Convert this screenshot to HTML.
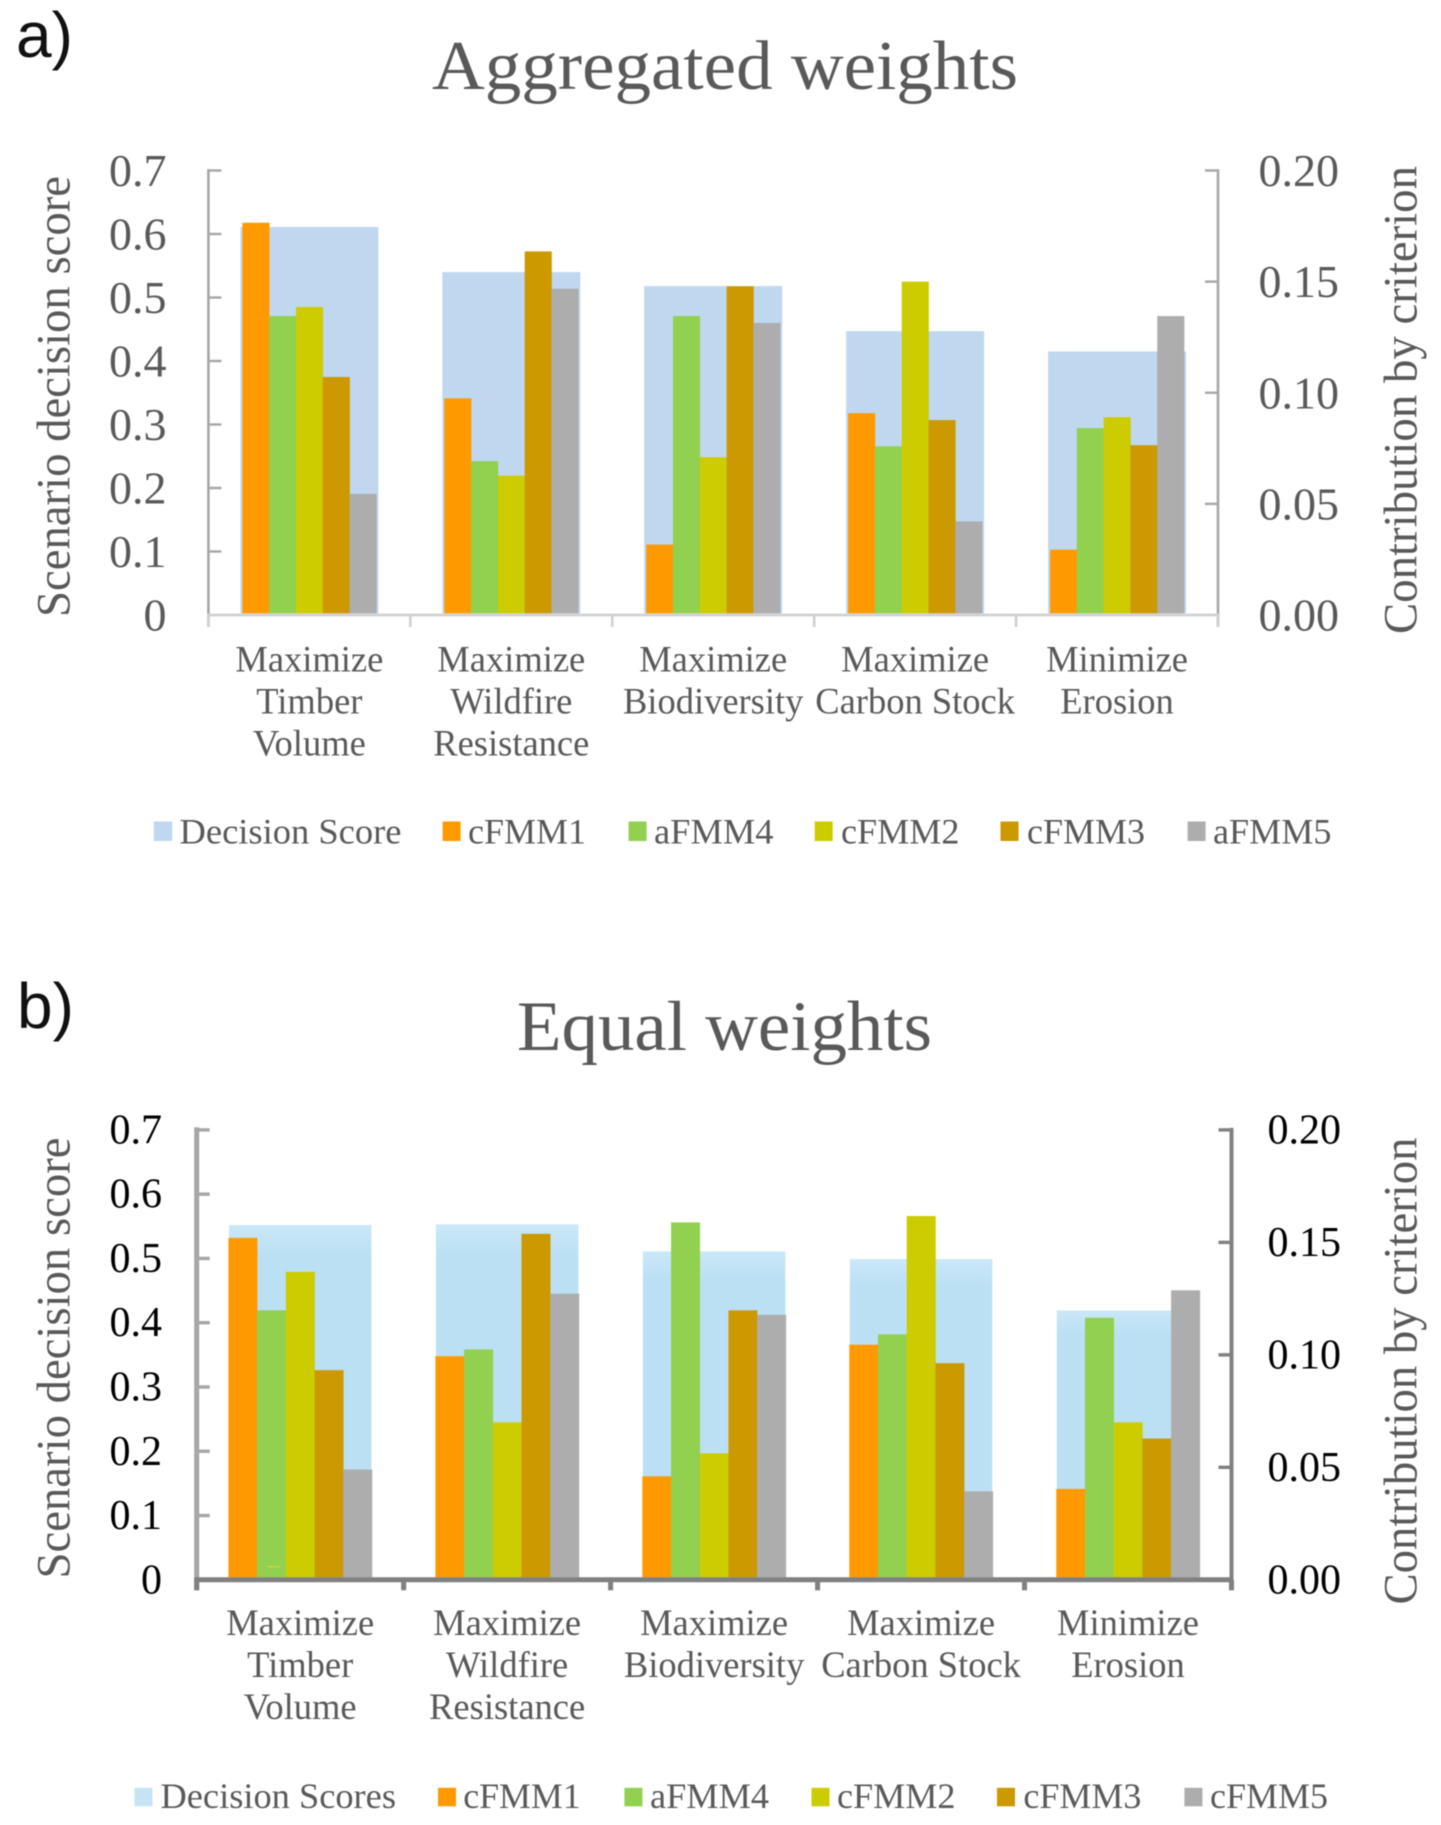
<!DOCTYPE html>
<html lang="en">
<head>
<meta charset="utf-8">
<title>Aggregated and equal weights decision scores</title>
<style>
html,body{margin:0;padding:0;background:#fff;}
svg{display:block;filter:blur(0.45px);}
text{font-family:"Liberation Serif",serif;}
.tag{font-family:"Liberation Sans",sans-serif;font-size:64px;fill:#111;}
.lg{font-size:36px;fill:#595959;}
</style>
</head>
<body>
<svg id="figure" xmlns="http://www.w3.org/2000/svg" width="1441" height="1825" viewBox="0 0 1441 1825">
  <defs>
    <linearGradient id="fadeB" x1="0" y1="0" x2="0" y2="1">
      <stop offset="0" stop-color="#cae8f8"/>
      <stop offset="0.09" stop-color="#bbe0f4"/>
      <stop offset="1" stop-color="#bbe0f4"/>
    </linearGradient>
  </defs>
  <rect x="0" y="0" width="1441" height="1825" fill="#fff"/>

  <text class="tag" x="16" y="57">a)</text>
  <text x="432" y="89" font-size="70" fill="#595959" textLength="586" lengthAdjust="spacingAndGlyphs">Aggregated weights</text>
  <text transform="translate(69.5,617) rotate(-90)" font-size="48" fill="#595959" textLength="441" lengthAdjust="spacingAndGlyphs">Scenario decision score</text>
  <text transform="translate(1416.5,634) rotate(-90)" font-size="48" fill="#595959" textLength="468" lengthAdjust="spacingAndGlyphs">Contribution by criterion</text>
  <g id="panelA"></g>

  <g>
    <rect x="153.8" y="821.5" width="18.4" height="19.5" fill="#bfd8f0"/>
    <text class="lg" x="179.5" y="843.5" textLength="222" lengthAdjust="spacingAndGlyphs">Decision Score</text>
    <rect x="442.6" y="821.5" width="18" height="19.5" fill="#ff9900"/>
    <text class="lg" x="468" y="843.5" textLength="118" lengthAdjust="spacingAndGlyphs">cFMM1</text>
    <rect x="628.6" y="821.5" width="18" height="19.5" fill="#92d050"/>
    <text class="lg" x="654" y="843.5" textLength="119.5" lengthAdjust="spacingAndGlyphs">aFMM4</text>
    <rect x="814.7" y="821.5" width="18" height="19.5" fill="#cccc00"/>
    <text class="lg" x="841" y="843.5" textLength="118.5" lengthAdjust="spacingAndGlyphs">cFMM2</text>
    <rect x="1000.5" y="821.5" width="18" height="19.5" fill="#cc9900"/>
    <text class="lg" x="1027" y="843.5" textLength="118" lengthAdjust="spacingAndGlyphs">cFMM3</text>
    <rect x="1187.6" y="821.5" width="18" height="19.5" fill="#adadad"/>
    <text class="lg" x="1213" y="843.5" textLength="118.5" lengthAdjust="spacingAndGlyphs">aFMM5</text>
  </g>

  <text class="tag" x="17" y="1028">b)</text>
  <text x="517" y="1050" font-size="71" fill="#595959" textLength="415" lengthAdjust="spacingAndGlyphs">Equal weights</text>
  <text transform="translate(69.5,1578.5) rotate(-90)" font-size="48" fill="#595959" textLength="441" lengthAdjust="spacingAndGlyphs">Scenario decision score</text>
  <text transform="translate(1416.5,1604.5) rotate(-90)" font-size="48" fill="#595959" textLength="467" lengthAdjust="spacingAndGlyphs">Contribution by criterion</text>
  <g id="panelB"></g>
  <rect x="267.5" y="1566" width="12.5" height="1.2" fill="#d6d24a"/>

  <g>
    <rect x="134.5" y="1787.8" width="18" height="18.5" fill="#c4e4f6"/>
    <text class="lg" x="160.5" y="1808" textLength="235.5" lengthAdjust="spacingAndGlyphs">Decision Scores</text>
    <rect x="438" y="1787.8" width="18" height="18.5" fill="#ff9900"/>
    <text class="lg" x="463.2" y="1808" textLength="117.5" lengthAdjust="spacingAndGlyphs">cFMM1</text>
    <rect x="624.4" y="1787.8" width="18" height="18.5" fill="#92d050"/>
    <text class="lg" x="650" y="1808" textLength="119" lengthAdjust="spacingAndGlyphs">aFMM4</text>
    <rect x="811.5" y="1787.8" width="18" height="18.5" fill="#cccc00"/>
    <text class="lg" x="837" y="1808" textLength="118.5" lengthAdjust="spacingAndGlyphs">cFMM2</text>
    <rect x="997" y="1787.8" width="18" height="18.5" fill="#cc9900"/>
    <text class="lg" x="1023.4" y="1808" textLength="118" lengthAdjust="spacingAndGlyphs">cFMM3</text>
    <rect x="1184.4" y="1787.8" width="18" height="18.5" fill="#adadad"/>
    <text class="lg" x="1210" y="1808" textLength="118" lengthAdjust="spacingAndGlyphs">cFMM5</text>
  </g>
</svg>

<script>
const categories = [
  ["Maximize", "Timber", "Volume"],
  ["Maximize", "Wildfire", "Resistance"],
  ["Maximize", "Biodiversity"],
  ["Maximize", "Carbon Stock"],
  ["Minimize", "Erosion"]
];
const leftTicks = [0, 0.1, 0.2, 0.3, 0.4, 0.5, 0.6, 0.7];
const leftTickLabels = ["0", "0.1", "0.2", "0.3", "0.4", "0.5", "0.6", "0.7"];
const rightTicks = [0, 0.05, 0.10, 0.15, 0.20];
const rightTickLabels = ["0.00", "0.05", "0.10", "0.15", "0.20"];

const seriesNamesA = ["cFMM1", "aFMM4", "cFMM2", "cFMM3", "aFMM5"];
const decisionA = [0.611, 0.540, 0.518, 0.447, 0.415];
const cfmm1A = [0.1765, 0.0975, 0.0317, 0.0908, 0.0294];
const afmm4A = [0.1345, 0.0692, 0.1345, 0.0759, 0.0841];
const cfmm2A = [0.1386, 0.0627, 0.0710, 0.1500, 0.0890];
const cfmm3A = [0.1071, 0.1636, 0.1479, 0.0877, 0.0764];
const afmm5A = [0.0545, 0.1468, 0.1314, 0.0421, 0.1345];

const seriesNamesB = ["cFMM1", "aFMM4", "cFMM2", "cFMM3", "cFMM5"];
const decisionB = [0.552, 0.553, 0.511, 0.499, 0.419];
const cfmm1B = [0.1520, 0.0994, 0.0460, 0.1045, 0.0404];
const afmm4B = [0.1198, 0.1024, 0.1589, 0.1091, 0.1165];
const cfmm2B = [0.1369, 0.0700, 0.0562, 0.1617, 0.0700];
const cfmm3B = [0.0932, 0.1538, 0.1198, 0.0963, 0.0628];
const cfmm5B = [0.0490, 0.1272, 0.1178, 0.0393, 0.1287];

const leftMax = 0.7;
const rightMax = 0.2;
const barColors = ["#ff9900", "#92d050", "#cccc00", "#cc9900", "#adadad"];
const SVGNS = "http://www.w3.org/2000/svg";

function slug(s) {
  return String(s).toLowerCase().replace(/[^a-z0-9]+/g, "-");
}

function makeRect(parent, x, y, w, h, fill, name) {
  const el = document.createElementNS(SVGNS, "rect");
  el.setAttribute("x", x);
  el.setAttribute("y", y);
  el.setAttribute("width", Math.max(w, 0));
  el.setAttribute("height", Math.max(h, 0));
  el.setAttribute("fill", fill);
  
  
  parent.appendChild(el);
  return el;
}

function makeLine(parent, x1, y1, x2, y2, stroke, width, name) {
  const el = document.createElementNS(SVGNS, "line");
  el.setAttribute("x1", x1);
  el.setAttribute("y1", y1);
  el.setAttribute("x2", x2);
  el.setAttribute("y2", y2);
  el.setAttribute("stroke", stroke);
  el.setAttribute("stroke-width", width);
  
  
  parent.appendChild(el);
  return el;
}

function makeText(parent, x, y, str, size, fill, anchor, name) {
  const el = document.createElementNS(SVGNS, "text");
  el.setAttribute("x", x);
  el.setAttribute("y", y);
  el.setAttribute("font-size", size);
  el.setAttribute("fill", fill);
  el.setAttribute("text-anchor", anchor);
  el.textContent = str;
  
  
  parent.appendChild(el);
  return el;
}

function drawPanel(root, layout, decision, seriesNames, seriesValues) {
  const plotW = layout.right - layout.left;
  const plotH = layout.zeroY - layout.topY;
  const catW = plotW / categories.length;
  const yLeft = function (v) { return layout.zeroY - (v / leftMax) * plotH; };
  const yRight = function (v) { return layout.zeroY - (v / rightMax) * plotH; };
  const xCenter = function (i) { return layout.left + catW * (i + 0.5); };
  const barBottom = layout.zeroY - layout.barLift;

  categories.forEach(function (cat, i) {
    const top = yLeft(decision[i]);
    makeRect(root, xCenter(i) - layout.decisionW / 2, top, layout.decisionW, barBottom - top, layout.decisionFill, "decision-score-bar-" + (i + 1));
  });

  seriesValues.forEach(function (values, s) {
    values.forEach(function (v, i) {
      const top = yRight(v);
      const x = xCenter(i) - (layout.barW * seriesValues.length) / 2 + layout.barW * s;
      makeRect(root, x, top, layout.barW + 0.3, barBottom - top, barColors[s], "bar-" + slug(seriesNames[s]) + "-" + (i + 1));
    });
  });

  makeLine(root, layout.left, layout.topY - layout.leftW / 2, layout.left, layout.zeroY + layout.catTickLen, layout.leftStroke, layout.leftW, "left-axis-line");
  makeLine(root, layout.right, layout.topY - layout.rightW / 2, layout.right, layout.zeroY + layout.catTickLen, layout.rightStroke, layout.rightW, "right-axis-line");

  leftTicks.forEach(function (t, i) {
    const y = yLeft(t);
    if (t > 0) makeLine(root, layout.left, y, layout.left + layout.tickLen, y, layout.leftStroke, layout.tickW, "left-axis-tick-" + slug(leftTickLabels[i]));
    makeText(root, layout.leftLabelX, y + layout.labelDy, leftTickLabels[i], layout.tickFont, layout.tickFill, "end", "left-axis-label-" + slug(leftTickLabels[i]));
  });

  rightTicks.forEach(function (t, i) {
    const y = yRight(t);
    if (t > 0) makeLine(root, layout.right, y, layout.right - layout.tickLen, y, layout.rightStroke, layout.tickW, "right-axis-tick-" + slug(rightTickLabels[i]));
    makeText(root, layout.rightLabelX, y + layout.labelDy, rightTickLabels[i], layout.tickFont, layout.tickFill, "start", "right-axis-label-" + slug(rightTickLabels[i]));
  });

  makeLine(root, layout.left - layout.leftW / 2, layout.zeroY, layout.right + layout.rightW / 2, layout.zeroY, layout.baseStroke, layout.baseW, "x-axis-line");

  for (let i = 0; i <= categories.length; i++) {
    const x = layout.left + catW * i;
    makeLine(root, x, layout.zeroY, x, layout.zeroY + layout.catTickLen, layout.catTickStroke, layout.catTickW, "x-axis-tick-" + i);
  }

  categories.forEach(function (lines, i) {
    lines.forEach(function (line, l) {
      makeText(root, xCenter(i), layout.catBaseY + l * layout.catLine, line, 36.5, "#595959", "middle", "category-label-" + (i + 1) + "-line-" + (l + 1));
    });
  });
}

drawPanel(document.getElementById("panelA"), {
  left: 208.4, right: 1218, topY: 170.5, zeroY: 615, barLift: 1.7,
  decisionW: 138, decisionFill: "#bfd8f0", barW: 26.8,
  leftStroke: "#a6a6a6", rightStroke: "#a6a6a6", baseStroke: "#d0d0d0",
  catTickStroke: "#d0d0d0", leftW: 2.6, rightW: 2.6, baseW: 2.8,
  catTickW: 2.6, tickW: 2.4, tickLen: 13, catTickLen: 12,
  tickFont: 46, tickFill: "#595959", labelDy: 15.5, leftLabelX: 166.5, rightLabelX: 1258.5,
  catBaseY: 671.5, catLine: 42
}, decisionA, seriesNamesA, [cfmm1A, afmm4A, cfmm2A, cfmm3A, afmm5A]);

drawPanel(document.getElementById("panelB"), {
  left: 196.7, right: 1231.5, topY: 1129.9, zeroY: 1579.8, barLift: 2.5,
  decisionW: 142.5, decisionFill: "url(#fadeB)", barW: 28.7,
  leftStroke: "#a6a6a6", rightStroke: "#808080", baseStroke: "#808080",
  catTickStroke: "#808080", leftW: 5, rightW: 4, baseW: 5,
  catTickW: 5, tickW: 3.4, tickLen: 13, catTickLen: 10.5,
  tickFont: 42, tickFill: "#000", labelDy: 13.5, leftLabelX: 162, rightLabelX: 1267.5,
  catBaseY: 1635, catLine: 42
}, decisionB, seriesNamesB, [cfmm1B, afmm4B, cfmm2B, cfmm3B, cfmm5B]);
</script>
</body>
</html>
